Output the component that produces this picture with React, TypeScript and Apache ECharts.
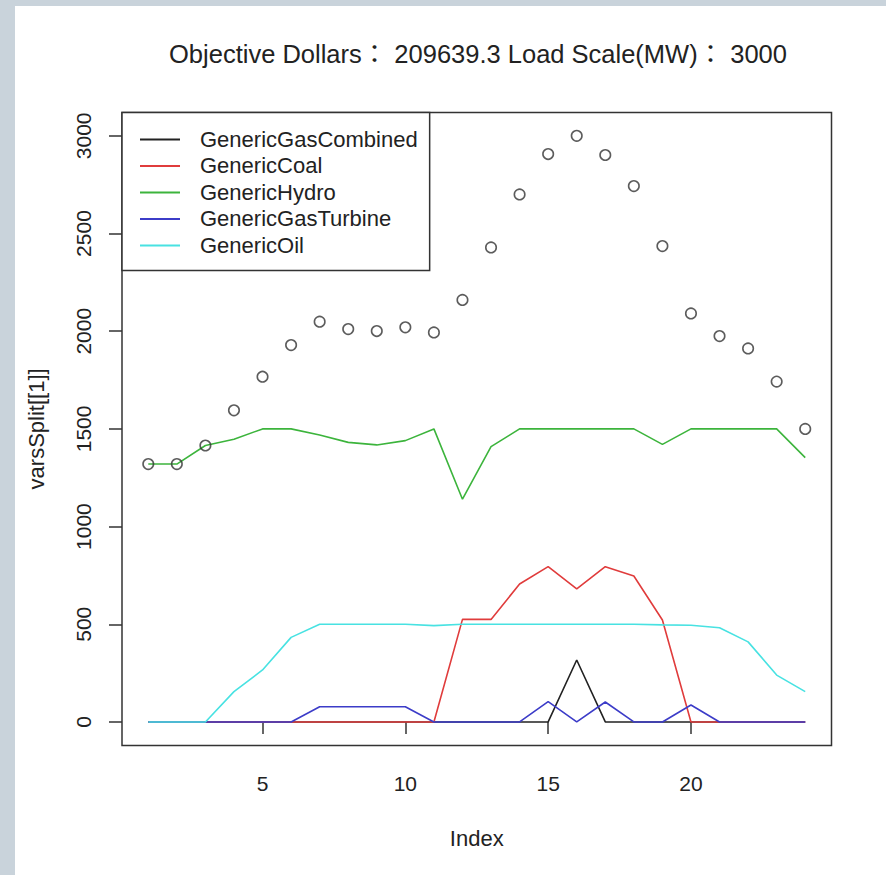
import React, { useEffect, useRef } from "react";
import * as echarts from "echarts";

const hours = [1, 2, 3, 4, 5, 6, 7, 8, 9, 10, 11, 12, 13, 14, 15, 16, 17, 18, 19, 20, 21, 22, 23, 24];
const load = [1320, 1320, 1415, 1595, 1767, 1929, 2049, 2011, 2001, 2020, 1994, 2160, 2429, 2700, 2907, 3000, 2902, 2743, 2436, 2091, 1975, 1912, 1742, 1500];
const gasCombined = [0, 0, 0, 0, 0, 0, 0, 0, 0, 0, 0, 0, 0, 0, 0, 317, 0, 0, 0, 0, 0, 0, 0, 0];
const coal = [0, 0, 0, 0, 0, 0, 0, 0, 0, 0, 0, 525, 525, 706, 795, 681, 795, 747, 522, 0, 0, 0, 0, 0];
const hydro = [1320, 1320, 1415, 1447, 1500, 1500, 1469, 1431, 1418, 1440, 1500, 1140, 1409, 1500, 1500, 1500, 1500, 1500, 1421, 1500, 1500, 1500, 1500, 1353];
const gasTurbine = [0, 0, 0, 0, 0, 0, 78, 78, 78, 78, 0, 0, 0, 0, 104, 0, 102, 0, 0, 87, 0, 0, 0, 0];
const oil = [0, 0, 0, 155, 266, 433, 500, 500, 500, 500, 493, 500, 500, 500, 500, 500, 500, 500, 497, 495, 482, 410, 240, 155];

const seriesNames = ["GenericGasCombined", "GenericCoal", "GenericHydro", "GenericGasTurbine", "GenericOil"];
const seriesValues = [gasCombined, coal, hydro, gasTurbine, oil];
const seriesColors = ["#222222", "#E03C3C", "#3CB43C", "#3C3CC8", "#48E2E2"];
const xTicks = [5, 10, 15, 20];
const yTicks = [0, 500, 1000, 1500, 2000, 2500, 3000];
const titleText = "Objective Dollars\uFF1A 209639.3 Load Scale(MW)\uFF1A 3000";

const FONT = "'Liberation Sans', Arial, 'Noto Sans CJK SC', sans-serif";
const TITLE_FONT = "'Liberation Sans', Arial, 'Noto Sans CJK TC', sans-serif";

export default function App() {
  const ref = useRef<HTMLDivElement>(null);
  useEffect(() => {
    if (!ref.current) return;
    const chart = echarts.init(ref.current, undefined, { renderer: "svg" });
    const pairs = (vals: number[]) => hours.map((h, i) => [h, vals[i]]);
    chart.setOption({
      animation: false,
      backgroundColor: "#ffffff",
      textStyle: { fontFamily: FONT },
      title: {
        text: titleText,
        left: 478,
        top: 41.5,
        textAlign: "center",
        padding: 0,
        textStyle: { fontSize: 25.5, fontWeight: "normal", color: "#222", fontFamily: TITLE_FONT },
      },
      graphic: [
        { type: "rect", shape: { x: 0, y: 0, width: 15, height: 875 }, style: { fill: "#C9D3DB" }, silent: true },
        { type: "rect", shape: { x: 0, y: 0, width: 886, height: 6 }, style: { fill: "#C9D3DB" }, silent: true },
      ],
      grid: {
        left: 122,
        right: 54.5,
        top: 112.4,
        bottom: 129.6,
        show: true,
        borderColor: "#333",
        borderWidth: 1.5,
        backgroundColor: "transparent",
      },
      legend: {
        orient: "vertical",
        left: 122,
        top: 112.4,
        data: seriesNames,
        icon: "rect",
        backgroundColor: "#fff",
        borderColor: "#333",
        borderWidth: 1.5,
        padding: [16, 12, 14, 18],
        itemWidth: 40,
        itemHeight: 2,
        itemGap: 4.5,
        selectedMode: false,
        textStyle: { fontSize: 22, color: "#222", fontFamily: FONT, padding: [0, 0, 0, 15] },
      },
      xAxis: {
        type: "value",
        min: 0.08,
        max: 24.92,
        name: "Index",
        nameLocation: "middle",
        nameGap: 82,
        nameTextStyle: { fontSize: 22, color: "#222", fontFamily: FONT },
        axisLine: { show: false },
        splitLine: { show: false },
        axisTick: { show: true, inside: false, length: 12, customValues: xTicks, lineStyle: { color: "#333", width: 1.5 } },
        axisLabel: { customValues: xTicks, margin: 28, fontSize: 21, color: "#222", fontFamily: FONT },
      },
      yAxis: {
        type: "value",
        min: -120,
        max: 3120,
        name: "varsSplit[[1]]",
        nameLocation: "middle",
        nameGap: 75,
        nameTextStyle: { fontSize: 22, color: "#222", fontFamily: FONT },
        axisLine: { show: false },
        splitLine: { show: false },
        axisTick: { show: true, inside: false, length: 13, customValues: yTicks, lineStyle: { color: "#333", width: 1.5 } },
        axisLabel: {
          customValues: yTicks,
          rotate: 90,
          margin: 28,
          fontSize: 21,
          color: "#222",
          fontFamily: FONT,
          formatter: (v: number) => String(v),
        },
      },
      series: [
        {
          type: "scatter",
          name: "Load",
          data: pairs(load),
          symbol: "circle",
          symbolSize: 10.5,
          itemStyle: { color: "rgba(255,255,255,0)", borderColor: "#333", borderWidth: 1.6 },
          z: 3,
        },
        ...seriesNames.map((name, k) => ({
          type: "line",
          name,
          data: pairs(seriesValues[k]),
          symbol: "none",
          color: seriesColors[k],
          lineStyle: { color: seriesColors[k], width: 1.6 },
          z: 2,
        })),
      ],
    });
    return () => chart.dispose();
  }, []);
  return <div ref={ref} style={{ position: "absolute", left: 0, top: 0, width: 886, height: 875 }} />;
}
